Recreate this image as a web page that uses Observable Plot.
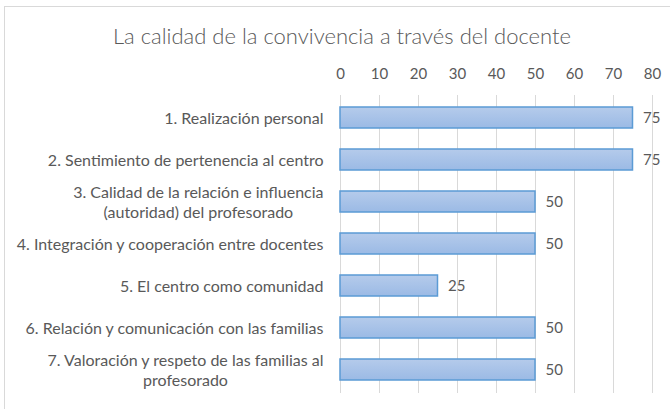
<!DOCTYPE html>
<html>
<head>
<meta charset="utf-8">
<script src="https://cdn.jsdelivr.net/npm/d3@7"></script>
<script src="https://cdn.jsdelivr.net/npm/@observablehq/plot@0.6"></script>
<style>
  html, body { margin: 0; padding: 0; background: #fff; }
  body { width: 670px; height: 409px; overflow: hidden; position: relative; font-family: Lato, sans-serif; }
  #border { position: absolute; left: 4px; top: 6px; width: 700px; height: 420px;
            border-left: 1px solid #d9d9d9; border-top: 1px solid #d9d9d9; pointer-events: none; }
  #title { height: 56px; box-sizing: border-box; padding-top: 23px; padding-left: 8px; width: 676px;
           text-align: center; font-size: 22px; line-height: 26px; color: #595959; font-weight: 300; white-space: nowrap; }
  #chart svg { display: block; }
</style>
</head>
<body>
<div id="border"></div>
<div id="title">La calidad de la convivencia a través del docente</div>
<div id="chart"></div>
<script>
const categories = [
  "1. Realización personal",
  "2. Sentimiento de pertenencia al centro",
  "3. Calidad de la relación e influencia (autoridad) del profesorado",
  "4. Integración y cooperación entre docentes",
  "5. El centro como comunidad",
  "6. Relación y comunicación con las familias",
  "7. Valoración y respeto de las familias al profesorado"
];
const categoryLabels = [
  "1. Realización personal",
  "2. Sentimiento de pertenencia al centro",
  "3. Calidad de la relación e influencia\n(autoridad) del profesorado",
  "4. Integración y cooperación entre docentes",
  "5. El centro como comunidad",
  "6. Relación y comunicación con las familias",
  "7. Valoración y respeto de las familias al\nprofesorado"
];
const values = [75, 75, 50, 50, 25, 50, 50];
const xTicks = [0, 10, 20, 30, 40, 50, 60, 70, 80];

const data = categories.map((c, i) => ({category: c, label: categoryLabels[i], value: values[i]}));

const gradientDefs = () => {
  const defs = d3.create("svg:defs");
  const g = defs.append("linearGradient").attr("id", "barGrad")
    .attr("x1", 0).attr("y1", 0).attr("x2", 0).attr("y2", 1);
  g.append("stop").attr("offset", "0%").attr("stop-color", "#b5cbeb");
  g.append("stop").attr("offset", "100%").attr("stop-color", "#9bbae5");
  return defs.node();
};

const tickFont = 15;
const labelFont = 16;
const textColor = "#595959";

const plot = Plot.plot({
  width: 670,
  height: 353,
  marginTop: 39,
  marginBottom: 16,
  marginLeft: 340,
  marginRight: 18,
  style: {fontFamily: "Lato, sans-serif", fontSize: tickFont + "px", color: textColor, background: "#fff"},
  x: {domain: [0, 80], ticks: xTicks, axis: null, label: null},
  y: {domain: categories, paddingInner: 0.49, paddingOuter: 0.245, axis: null, label: null},
  marks: [
    gradientDefs,
    Plot.gridX(xTicks, {stroke: "#d9d9d9", strokeOpacity: 1, strokeWidth: 1}),
    Plot.axisX({anchor: "top", ticks: xTicks, tickSize: 0, tickPadding: 17, label: null, fontSize: tickFont, fill: textColor}),
    Plot.barX(data, {x: "value", y: "category", fill: "url(#barGrad)", stroke: "#5b9bd5", strokeWidth: 1.5}),
    Plot.text(data, {x: "value", y: "category", text: d => String(d.value), textAnchor: "start", dx: 10, fill: textColor, fontSize: tickFont}),
    Plot.text(data, {y: "category", frameAnchor: "left", text: "label", textAnchor: "end", dx: -17, fill: textColor, fontSize: labelFont, lineHeight: 1.25})
  ]
});
document.getElementById("chart").appendChild(plot);

// center multi-line category labels on their longest line (as in the reference)
plot.querySelectorAll("text").forEach(t => {
  const spans = t.querySelectorAll("tspan");
  if (spans.length > 1) {
    let w = 0;
    spans.forEach(s => { w = Math.max(w, s.getComputedTextLength()); });
    t.setAttribute("text-anchor", "middle");
    t.style.textAnchor = "middle";
    spans.forEach(s => { s.setAttribute("x", -w / 2); s.style.textAnchor = "middle"; });
  }
});
</script>
</body>
</html>
